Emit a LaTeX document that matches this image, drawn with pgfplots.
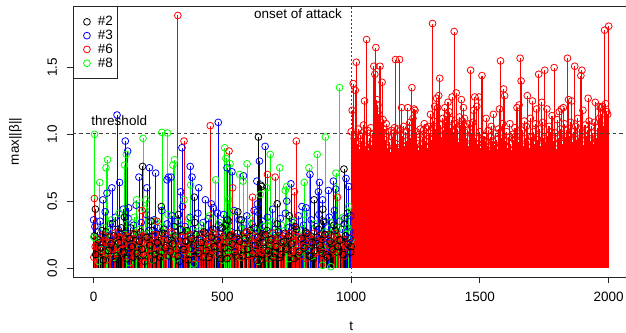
\documentclass[border=0pt]{standalone}
\usepackage{fontspec}
\setmainfont{Liberation Sans}
\usepackage{pgfplots}
\usepackage{pgfplotstable}
\pgfplotsset{compat=1.18}

\pgfplotstableread{
k b r g r2 k2
0.24 0.31 0.08 0.22 0.16 0.10
0.12 0.27 0.17 0.05 0.22 0.21
0.19 0.35 0.21 0.14 0.11 0.15
0.28 0.18 0.13 0.30 0.25 0.06
0.09 0.42 0.24 0.11 0.19 0.27
0.21 0.24 0.06 0.27 0.07 0.13
0.15 0.33 0.19 0.36 0.23 0.18
0.33 0.21 0.15 0.08 0.14 0.24
0.07 0.38 0.26 0.19 0.20 0.09
0.18 0.29 0.11 0.41 0.27 0.19
0.26 0.16 0.22 0.13 0.13 0.30
0.11 0.44 0.18 0.25 0.18 0.12
0.22 0.26 0.09 0.33 0.24 0.07
0.14 0.37 0.23 0.04 0.09 0.22
0.30 0.20 0.16 0.21 0.21 0.16
0.08 0.32 0.25 0.38 0.16 0.25
0.20 0.47 0.12 0.15 0.26 0.11
0.16 0.25 0.20 0.29 0.12 0.20
0.27 0.34 0.07 0.10 0.19 0.14
0.10 0.19 0.24 0.44 0.23 0.05
0.23 0.40 0.14 0.17 0.08 0.23
0.13 0.28 0.21 0.26 0.20 0.17
0.35 0.23 0.10 0.06 0.15 0.28
0.06 0.36 0.19 0.35 0.25 0.10
0.19 0.30 0.25 0.12 0.17 0.19
0.25 0.17 0.16 0.23 0.22 0.08
0.12 0.43 0.08 0.31 0.11 0.26
0.29 0.26 0.22 0.09 0.24 0.15
0.17 0.33 0.18 0.40 0.14 0.21
0.09 0.22 0.13 0.18 0.18 0.12
0.21 0.39 0.27 0.24 0.26 0.18
0.31 0.27 0.11 0.07 0.10 0.24
0.14 0.35 0.20 0.34 0.21 0.09
0.05 0.20 0.15 0.16 0.16 0.29
0.24 0.46 0.23 0.28 0.23 0.14
0.16 0.31 0.09 0.12 0.13 0.20
0.28 0.24 0.19 0.37 0.19 0.06
0.10 0.38 0.24 0.20 0.25 0.22
0.20 0.29 0.14 0.03 0.07 0.17
0.34 0.18 0.21 0.27 0.20 0.25
0.13 0.41 0.17 0.14 0.15 0.11
0.22 0.25 0.07 0.32 0.22 0.19
0.08 0.34 0.26 0.22 0.12 0.27
0.26 0.22 0.12 0.09 0.24 0.13
0.18 0.37 0.20 0.39 0.18 0.08
0.11 0.28 0.16 0.17 0.09 0.23
0.29 0.45 0.23 0.25 0.26 0.16
0.15 0.21 0.10 0.11 0.14 0.21
0.23 0.32 0.18 0.34 0.21 0.10
0.07 0.26 0.25 0.06 0.17 0.30
0.19 0.40 0.13 0.21 0.23 0.15
0.32 0.19 0.21 0.30 0.11 0.07
0.12 0.35 0.08 0.13 0.19 0.24
0.25 0.27 0.19 0.42 0.25 0.18
0.17 0.43 0.24 0.18 0.13 0.12
0.09 0.23 0.15 0.26 0.20 0.26
0.21 0.36 0.22 0.08 0.16 0.20
0.36 0.30 0.11 0.33 0.08 0.09
0.14 0.18 0.17 0.15 0.22 0.22
0.27 0.39 0.26 0.23 0.27 0.14
0.10 0.25 0.09 0.37 0.14 0.28
0.20 0.33 0.20 0.12 0.18 0.11
0.30 0.21 0.14 0.28 0.24 0.17
0.06 0.42 0.23 0.05 0.10 0.23
0.18 0.28 0.18 0.20 0.21 0.06
0.24 0.35 0.12 0.31 0.15 0.19
0.13 0.20 0.25 0.16 0.23 0.25
0.28 0.38 0.16 0.24 0.12 0.13
0.16 0.26 0.07 0.35 0.19 0.21
0.22 0.44 0.21 0.10 0.26 0.08
0.11 0.29 0.19 0.27 0.17 0.16
0.33 0.22 0.13 0.19 0.09 0.27
0.08 0.37 0.24 0.32 0.22 0.10
0.19 0.24 0.10 0.14 0.14 0.20
0.26 0.41 0.22 0.22 0.25 0.14
0.15 0.30 0.17 0.07 0.18 0.24
0.23 0.19 0.26 0.36 0.11 0.18
0.12 0.34 0.12 0.18 0.20 0.07
0.31 0.27 0.20 0.26 0.24 0.29
0.09 0.39 0.15 0.11 0.13 0.12
0.21 0.23 0.23 0.29 0.21 0.22
0.17 0.32 0.09 0.40 0.16 0.15
0.27 0.45 0.18 0.15 0.07 0.26
0.13 0.25 0.25 0.23 0.23 0.09
0.24 0.36 0.14 0.09 0.19 0.19
0.07 0.21 0.21 0.33 0.26 0.13
0.20 0.31 0.11 0.20 0.12 0.23
0.29 0.40 0.19 0.13 0.17 0.17
0.14 0.26 0.24 0.02 0.22 0.11
0.35 0.34 0.16 0.27 0.15 0.25
0.10 0.22 0.08 0.17 0.25 0.08
0.25 0.38 0.22 0.34 0.10 0.20
0.18 0.28 0.17 0.24 0.20 0.14
0.32 0.43 0.13 0.12 0.14 0.28
0.12 0.24 0.26 0.30 0.24 0.16
0.21 0.35 0.19 0.19 0.18 0.21
0.16 0.29 0.10 0.38 0.21 0.10
0.33 0.37 0.21 0.25 0.09 0.24
0.18 0.30 0.15 0.16 0.16 0.18
0.22 0.27 0.18 0.21 0.23 0.12
}\basedata

\pgfplotsset{
  stem/.style={ycomb, draw=#1, line width=0.7pt, mark=o, mark size=3.4pt,
    mark options={draw=#1, line width=0.8pt, solid}, forget plot},
}

\begin{document}
\begin{tikzpicture}[font=\fontsize{13.5}{16}\selectfont]
\begin{axis}[
  scale only axis, width=556.3pt, height=271pt,
  xmin=-80, xmax=2080, ymin=-0.0675, ymax=1.961,
  axis line style={line width=0.9pt, black!85},
  xtick={0,500,1000,1500,2000}, xticklabels={0,500,1000,1500,2000},
  ytick={0,0.5,1,1.5}, yticklabels={0.0,0.5,1.0,1.5},
  xtick pos=bottom, ytick pos=left,
  tick align=outside, major tick length=6pt,
  tick style={line width=0.9pt, black!85},
  /pgf/number format/assume math mode=true,
  xticklabel style={anchor=base, inner sep=0pt},
  xticklabel shift=18pt,
  yticklabel style={rotate=90, anchor=base, inner sep=0pt},
  yticklabel shift=10pt,
  xlabel={t}, ylabel={max||β||},
  xlabel style={at={(axis description cs:0.5,-0.1956)}, anchor=base, inner sep=0pt},
  ylabel style={at={(axis description cs:-0.0971,0.5)}, anchor=base, inner sep=0pt},
  legend style={at={(axis description cs:0,1)}, anchor=north west, draw=black!85,
    line width=0.9pt, fill=white, inner xsep=3pt, inner ysep=8.5pt, row sep=0pt,
    column sep=2pt, font=\fontsize{13.5}{16}\selectfont,
    nodes={inner sep=1.5pt, text height=9.2pt, text depth=1.6pt}},
  legend cell align=left,
  legend image code/.code={\path[draw=none] (0pt,0pt) -- (18pt,0pt);
    \draw[#1, line width=0.8pt] plot coordinates {(10.5pt,0pt)};},
]
\addlegendimage{only marks, mark=o, mark size=3.4pt, draw=black}
\addlegendimage{only marks, mark=o, mark size=3.4pt, draw=blue}
\addlegendimage{only marks, mark=o, mark size=3.4pt, draw=red}
\addlegendimage{only marks, mark=o, mark size=3.4pt, draw=green}
\legend{\#2,\#3,\#6,\#8}

% baselines
\addplot[stem=blue] table[x expr=\coordindex*10+5, y=b] {\basedata};
\addplot[stem=green] table[x expr=\coordindex*10+9, y=g] {\basedata};
\addplot[stem=black] table[x expr=\coordindex*10+3, y=k] {\basedata};
\addplot[stem=red] table[x expr=\coordindex*10+1, y=r] {\basedata};
\addplot[stem=red] table[x expr=\coordindex*10+6, y=r2] {\basedata};
\addplot[stem=black] table[x expr=\coordindex*10+8, y=k2] {\basedata};

% spikes before the attack
\addplot[stem=blue] coordinates {
(0,0.36)(36,0.51)(52,0.56)(71,0.60)(91,1.145)(101,0.64)(123,0.95)(132,0.875)
(136,0.45)(176,0.68)(207,0.60)(217,0.75)(241,0.71)(285,0.66)(291,0.68)
(301,0.68)(338,0.57)(343,0.90)(375,0.76)(382,0.68)(408,0.60)(434,0.51)
(457,0.48)(481,0.41)(484,1.09)(518,0.75)(537,0.72)(582,0.69)(623,0.43)
(634,0.65)(636,0.48)(644,0.80)(666,0.91)(750,0.50)(766,0.63)(809,0.46)
(840,0.70)(873,0.57)(877,0.64)(889,0.51)(912,0.58)(931,0.65)(940,0.59)
(980,0.67)(990,0.61)(996,0.22)(998,0.39)};
\addplot[stem=green] coordinates {
(1,0.23)(4,1.00)(24,0.64)(48,0.75)(54,0.81)(120,0.77)(127,0.85)(167,0.51)
(192,0.97)(203,0.51)(265,1.015)(287,1.01)(308,0.77)(314,0.81)(351,0.51)
(377,0.62)(474,0.66)(509,0.90)(514,0.82)(524,0.51)(530,0.78)(567,0.70)
(580,0.65)(596,0.78)(647,0.55)(671,0.60)(686,0.85)(723,0.75)(744,0.58)
(750,0.61)(818,0.64)(836,0.75)(868,0.85)(900,0.98)(921,0.01)(941,0.71)
(955,1.35)(987,0.30)(990,0.46)};
\addplot[stem=black] coordinates {
(7,0.44)(120,0.38)(190,0.76)(263,0.46)(330,0.40)(391,0.53)(520,0.36)
(560,0.42)(640,0.98)(649,0.62)(653,0.61)(713,0.48)(760,0.39)(856,0.51)
(890,0.44)(972,0.74)(986,0.41)(1000,0.16)};
\addplot[stem=red] coordinates {
(3,0.52)(188,0.43)(246,0.35)(327,1.89)(351,0.95)(453,1.065)(526,0.875)
(540,0.60)(617,0.53)(675,0.70)(705,0.68)(780,0.57)(787,0.95)(947,0.53)};

% after the attack
\addplot[stem=red, line width=1.1pt] coordinates {
(1000,1.02)(1004,1.18)(1008,1.38)(1012,0.97)(1016,1.33)(1020,1.54)(1024,0.93)(1028,1.04)(1032,0.89)(1036,0.99)
(1040,0.95)(1044,1.01)(1048,1.07)(1052,1.25)(1056,0.91)(1060,1.71)(1064,1.03)(1068,0.88)(1072,0.97)(1076,1.05)
(1080,0.92)(1084,1.00)(1088,1.51)(1092,1.45)(1096,1.65)(1100,1.26)(1104,1.22)(1108,1.15)(1112,1.51)(1116,1.09)
(1120,1.39)(1124,1.11)(1128,1.04)(1132,0.96)(1136,1.08)(1140,0.90)(1144,1.02)(1148,0.94)(1152,0.87)(1156,1.03)
(1160,0.98)(1164,1.01)(1168,1.05)(1172,1.56)(1176,0.93)(1180,1.04)(1184,0.90)(1188,1.56)(1192,1.03)(1196,1.20)
(1200,0.99)(1204,1.06)(1208,0.91)(1212,1.02)(1216,0.95)(1220,1.20)(1224,1.05)(1228,1.09)(1232,0.97)(1236,1.35)
(1240,1.12)(1244,1.19)(1248,1.18)(1252,1.02)(1256,0.93)(1260,0.88)(1264,1.00)(1268,1.04)(1272,0.92)(1276,0.98)
(1280,1.03)(1284,1.08)(1288,0.95)(1292,1.05)(1296,0.90)(1300,1.06)(1304,1.01)(1308,1.15)(1312,0.96)(1316,1.83)
(1320,1.10)(1324,1.21)(1328,1.04)(1332,1.27)(1336,1.20)(1340,1.29)(1344,1.42)(1348,1.07)(1352,0.98)(1356,1.12)
(1360,1.03)(1364,1.20)(1368,1.09)(1372,1.14)(1376,1.24)(1380,1.17)(1384,1.05)(1388,1.11)(1392,1.28)(1396,1.02)
(1400,1.77)(1404,1.08)(1408,1.31)(1412,1.04)(1416,0.94)(1420,1.13)(1424,1.07)(1428,1.26)(1432,1.10)(1436,1.20)
(1440,1.12)(1444,1.06)(1448,0.97)(1452,1.03)(1456,0.91)(1460,1.08)(1464,1.48)(1468,1.01)(1472,1.09)(1476,1.18)
(1480,1.28)(1484,0.97)(1488,1.21)(1492,0.93)(1496,1.28)(1500,1.02)(1504,0.90)(1508,1.44)(1512,0.96)(1516,0.99)
(1520,0.94)(1524,1.12)(1528,0.91)(1532,1.03)(1536,0.88)(1540,0.98)(1544,1.06)(1548,0.95)(1552,1.15)(1556,0.92)
(1560,1.01)(1564,0.96)(1568,0.89)(1572,1.04)(1576,1.19)(1580,1.55)(1584,0.97)(1588,1.08)(1592,1.34)(1596,1.29)
(1600,0.95)(1604,1.02)(1608,0.90)(1612,0.98)(1616,1.08)(1620,0.93)(1624,0.88)(1628,1.00)(1632,0.96)(1636,1.05)
(1640,0.99)(1644,1.20)(1648,0.94)(1652,1.22)(1656,1.57)(1660,1.40)(1664,1.03)(1668,0.91)(1672,1.10)(1676,0.97)
(1680,1.06)(1684,1.29)(1688,0.95)(1692,0.90)(1696,1.12)(1700,0.98)(1704,1.25)(1708,1.02)(1712,0.93)(1716,1.08)
(1720,1.19)(1724,0.96)(1728,1.45)(1732,1.04)(1736,0.91)(1740,1.24)(1744,1.09)(1748,0.97)(1752,1.48)(1756,0.94)
(1760,1.19)(1764,0.99)(1768,1.06)(1772,0.92)(1776,1.02)(1780,1.14)(1784,0.95)(1788,1.50)(1792,1.01)(1796,0.89)
(1800,1.11)(1804,0.97)(1808,1.17)(1812,1.04)(1816,1.19)(1820,0.93)(1824,1.20)(1828,1.08)(1832,0.98)(1836,1.03)
(1840,1.57)(1844,1.26)(1848,0.99)(1852,1.09)(1856,1.25)(1860,0.94)(1864,1.02)(1868,1.51)(1872,1.06)(1876,0.96)
(1880,1.12)(1884,0.97)(1888,1.04)(1892,1.44)(1896,1.48)(1900,1.18)(1904,0.92)(1908,1.07)(1912,0.99)(1916,1.03)
(1920,1.27)(1924,1.10)(1928,0.95)(1932,1.06)(1936,1.01)(1940,0.93)(1944,1.09)(1948,1.24)(1952,0.97)(1956,1.05)
(1960,1.21)(1964,1.12)(1968,1.20)(1972,1.15)(1976,1.21)(1980,1.06)(1984,1.78)(1988,1.23)(1992,1.17)(1996,1.15)
(2000,1.81)};

% reference lines
\addplot[forget plot, black!75, line width=0.8pt, dash pattern=on 3.5pt off 3pt] coordinates {(-80,1.01) (2080,1.01)};
\addplot[forget plot, black!75, line width=0.9pt, dash pattern=on 1.5pt off 2.5pt] coordinates {(1000,-0.0675) (1000,1.961)};

\node[anchor=base west, inner sep=0pt] at (axis cs:-9,1.063) {threshold};
\node[anchor=base east, inner sep=0pt] at (axis cs:965,1.864) {onset of attack};
\end{axis}
\pgfresetboundingbox
\path[use as bounding box] (-73pt,-55pt) rectangle (553pt,277pt);
\end{tikzpicture}
\end{document}
